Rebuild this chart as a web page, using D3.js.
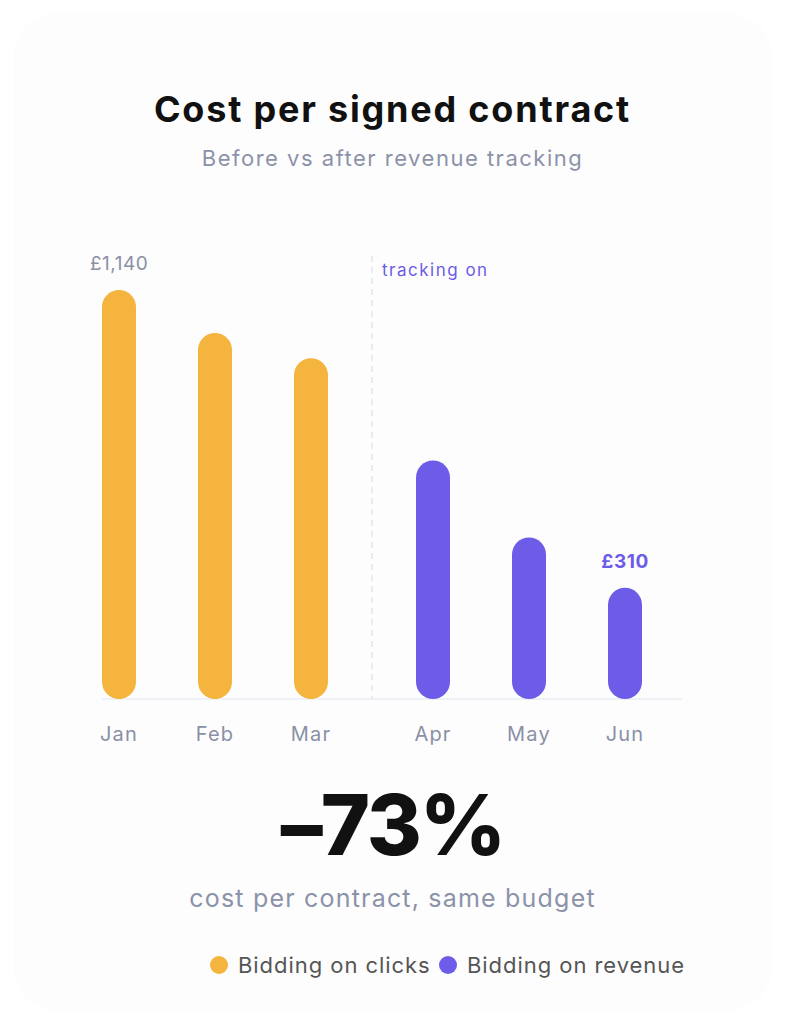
<!DOCTYPE html>
<html>
<head>
<meta charset="utf-8">
<script src="https://cdn.jsdelivr.net/npm/d3@7"></script>
<style>
  body { margin: 0; background: #ffffff; }
  svg { display: block; font-family: Inter, "Open Sans", sans-serif; }
</style>
</head>
<body>
<div id="chart"></div>
<script>
// data
const months = ["Jan", "Feb", "Mar", "Apr", "May", "Jun"];
const costs = [1140, 1020, 950, 665, 450, 310];
const groups = ["before", "after"];
const monthGroup = ["before", "before", "before", "after", "after", "after"];
const seriesNames = ["Bidding on clicks", "Bidding on revenue"];

const W = 785, H = 1024;
const colors = { before: "#f4b43e", after: "#6c5ce7" };

const svg = d3.select("#chart").append("svg")
    .attr("width", W)
    .attr("height", H);

// card
svg.append("rect")
    .attr("x", 14).attr("y", 14)
    .attr("width", W - 28).attr("height", H - 28)
    .attr("rx", 40)
    .attr("fill", "#fdfdfd");

// titles
svg.append("text")
    .attr("x", W / 2).attr("y", 122)
    .attr("text-anchor", "middle")
    .attr("font-size", 36).attr("font-weight", 700)
    .attr("letter-spacing", 1.8)
    .attr("fill", "#111111")
    .text("Cost per signed contract");

svg.append("text")
    .attr("x", W / 2).attr("y", 166)
    .attr("text-anchor", "middle")
    .attr("font-size", 22)
    .attr("letter-spacing", 1.5)
    .attr("fill", "#8c92a8")
    .text("Before vs after revenue tracking");

// scales
const baseY = 699;
const yScale = d3.scaleLinear()
    .domain([0, 1140])
    .range([baseY, 290]);

const groupScale = d3.scaleBand()
    .domain(groups)
    .range([102, 642])
    .paddingInner(88 / 314)
    .paddingOuter(0);

const innerScale = {};
groups.forEach(g => {
    innerScale[g] = d3.scaleBand()
        .domain(months.filter((m, i) => monthGroup[i] === g))
        .range([0, groupScale.bandwidth()])
        .paddingInner(62 / 96)
        .paddingOuter(0);
});

const data = months.map((m, i) => ({ month: m, cost: costs[i], group: monthGroup[i] }));
const xLeft = d => groupScale(d.group) + innerScale[d.group](d.month);
const bw = innerScale.before.bandwidth();

// divider
const divX = (groupScale("before") + groupScale.bandwidth() + groupScale("after")) / 2;
svg.append("line")
    .attr("x1", divX).attr("x2", divX)
    .attr("y1", 256).attr("y2", baseY)
    .attr("stroke", "#e3e5ee")
    .attr("stroke-width", 1.5)
    .attr("stroke-dasharray", "6 5");

svg.append("text")
    .attr("x", divX + 10).attr("y", 276)
    .attr("font-size", 17)
    .attr("letter-spacing", 1.5)
    .attr("fill", "#6c5ce7")
    .text("tracking on");

// baseline
svg.append("line")
    .attr("x1", 102).attr("x2", 682)
    .attr("y1", baseY).attr("y2", baseY)
    .attr("stroke", "#e4e6ef")
    .attr("stroke-width", 1.2);

// bars
svg.append("g").selectAll("rect")
    .data(data)
    .join("rect")
    .attr("x", xLeft)
    .attr("y", d => yScale(d.cost))
    .attr("width", bw)
    .attr("height", d => baseY - yScale(d.cost))
    .attr("rx", bw / 2)
    .attr("fill", d => colors[d.group]);

// month labels
svg.append("g").selectAll("text")
    .data(data)
    .join("text")
    .attr("x", d => xLeft(d) + bw / 2)
    .attr("y", 741)
    .attr("text-anchor", "middle")
    .attr("font-size", 20)
    .attr("letter-spacing", 1.2)
    .attr("fill", "#8a90a6")
    .text(d => d.month);

// value labels
const first = data[0], last = data[data.length - 1];
svg.append("text")
    .attr("x", xLeft(first) - 12).attr("y", yScale(first.cost) - 20)
    .attr("font-size", 19)
    .attr("letter-spacing", 0.5)
    .attr("fill", "#8a90a6")
    .text("£" + d3.format(",")(first.cost));

svg.append("text")
    .attr("x", xLeft(last) + bw / 2).attr("y", yScale(last.cost) - 20)
    .attr("text-anchor", "middle")
    .attr("font-size", 19).attr("font-weight", 700)
    .attr("letter-spacing", 0.5)
    .attr("fill", "#6c5ce7")
    .text("£" + d3.format(",")(last.cost));

// big number
const change = Math.round((last.cost / first.cost - 1) * 100);
svg.append("text")
    .attr("x", W / 2).attr("y", 855)
    .attr("text-anchor", "middle")
    .attr("font-size", 84).attr("font-weight", 800)
    .attr("letter-spacing", -2)
    .attr("fill", "#111111")
    .text("\u2013" + Math.abs(change) + "%");

svg.append("text")
    .attr("x", W / 2).attr("y", 907)
    .attr("text-anchor", "middle")
    .attr("font-size", 25)
    .attr("letter-spacing", 1.2)
    .attr("fill", "#8c92a8")
    .text("cost per contract, same budget");

// legend
const legend = svg.append("g");
const legendX = [219, 448];
seriesNames.forEach((name, i) => {
    legend.append("circle")
        .attr("cx", legendX[i]).attr("cy", 965)
        .attr("r", 9)
        .attr("fill", colors[groups[i]]);
    legend.append("text")
        .attr("x", legendX[i] + 19).attr("y", 973)
        .attr("font-size", 22)
        .attr("letter-spacing", 0.95)
        .attr("fill", "#555555")
        .text(name);
});
</script>
</body>
</html>
